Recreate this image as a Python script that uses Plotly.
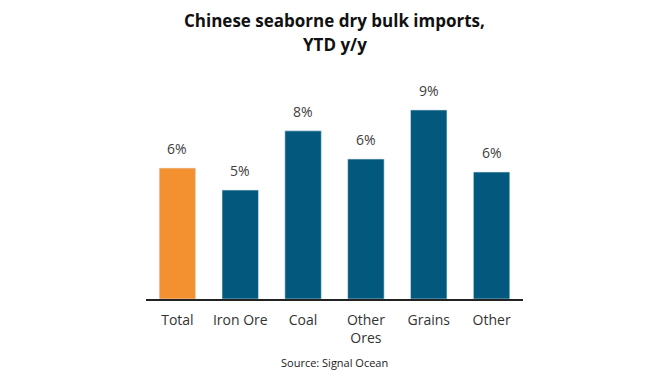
import plotly.graph_objects as go

categories = ["Total", "Iron Ore", "Coal", "Other<br>Ores", "Grains", "Other"]
values = [0.0595, 0.0495, 0.0764, 0.0636, 0.0859, 0.0577]
colors = ["#F39131", "#02587D", "#02587D", "#02587D", "#02587D", "#02587D"]

# page body adds an 8px offset; compensate so marks land where the reference has them
OFF = 8
W, H = 670, 380
plot_left, plot_right = 146 - OFF, 523 - OFF
plot_top, plot_bottom = 95 - OFF, 299 - OFF
plot_h = plot_bottom - plot_top

def ypaper(px_ref):
    return (plot_bottom - (px_ref - OFF)) / plot_h

fig = go.Figure(go.Bar(
    x=categories, y=values,
    marker=dict(color=colors, line=dict(color="#dbe7ee", width=0.6)),
    cliponaxis=False,
))

# value labels above bars, placed through the data scales
for c, v in zip(categories, values):
    fig.add_annotation(x=c, y=v, xref="x", yref="y", text=f"{round(v * 100)}%",
                       showarrow=False, xanchor="center", yanchor="bottom", yshift=8,
                       font=dict(family="Open Sans", size=14, color="#404040"))

title_font = dict(family="Open Sans", size=17, color="#111111")
for txt, ypx in [("<b>Chinese seaborne dry bulk imports,</b>", 20), ("<b>YTD y/y</b>", 44)]:
    fig.add_annotation(text=txt, x=0.5, xref="paper", y=ypaper(ypx), yref="paper",
                       showarrow=False, xanchor="center", yanchor="middle", font=title_font)
fig.add_annotation(text="Source: Signal Ocean", x=0.5, xref="paper", y=ypaper(362), yref="paper",
                   showarrow=False, xanchor="center", yanchor="middle",
                   font=dict(family="Open Sans", size=11, color="#222222"))

fig.update_layout(
    width=W, height=H,
    margin=dict(l=plot_left, r=W - plot_right, t=plot_top, b=H - plot_bottom, autoexpand=False),
    paper_bgcolor="white", plot_bgcolor="white",
    bargap=0.42,
    showlegend=False,
)

fig.update_xaxes(showline=True, linecolor="#222222", linewidth=1.6, automargin=False,
                 ticks="", ticklabelstandoff=7,
                 tickfont=dict(family="Open Sans", size=14, color="#333333"))
fig.update_yaxes(range=[0, 0.0927], visible=False, showgrid=False, zeroline=False, automargin=False)

fig.write_html("out.html")
